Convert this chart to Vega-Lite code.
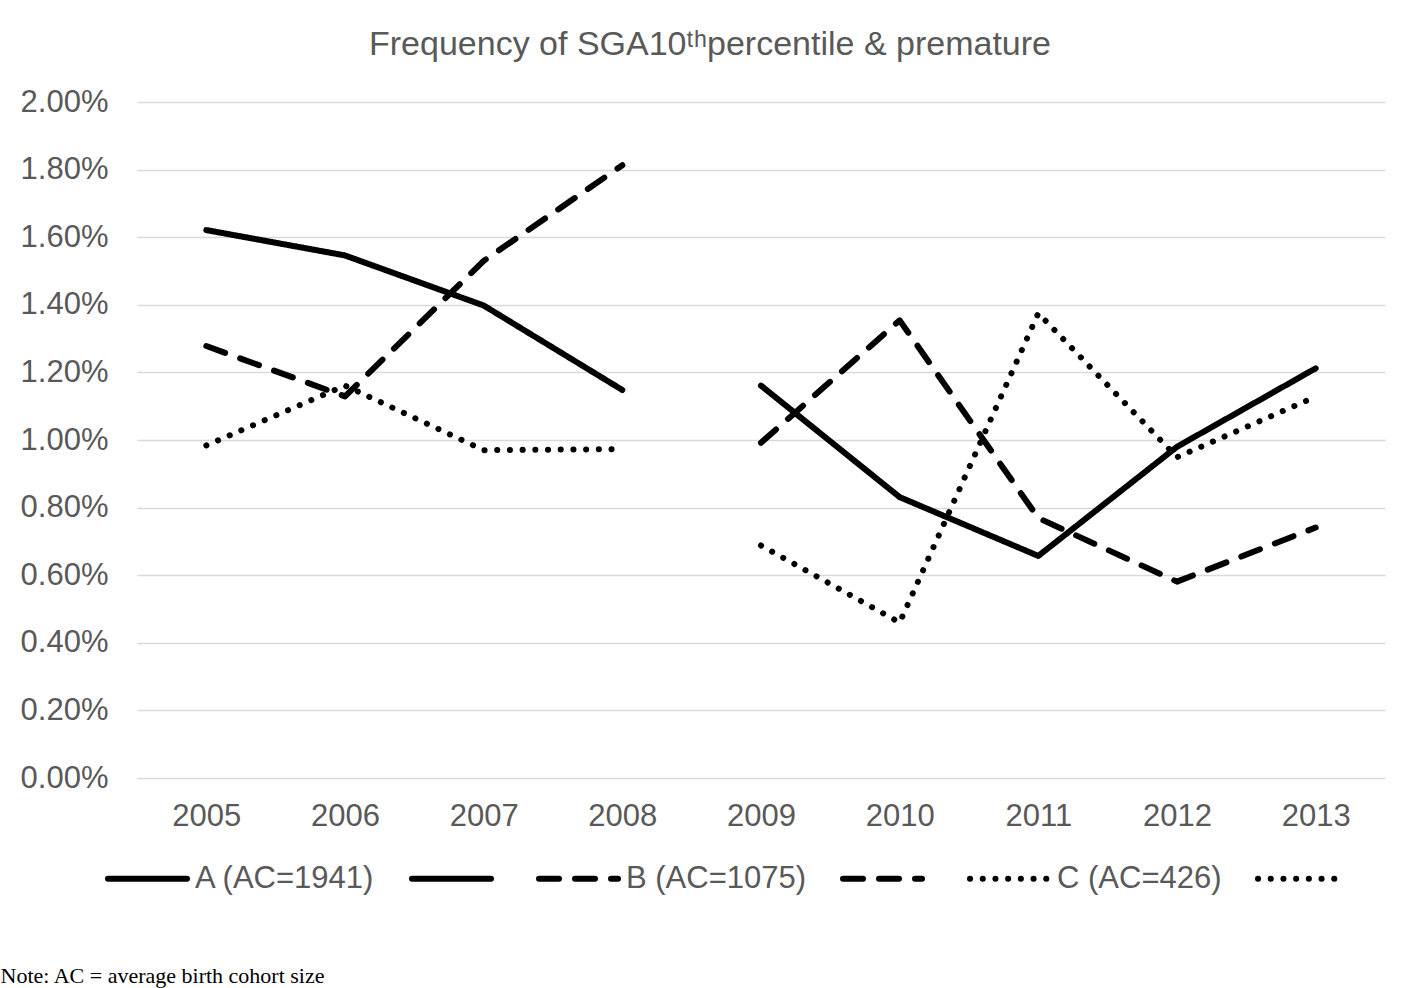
{
  "$schema": "https://vega.github.io/schema/vega-lite/v6.json",
  "width": 1248,
  "height": 676,
  "autosize": {"type": "none"},
  "padding": {"left": 137, "top": 102, "right": 35, "bottom": 210},
  "background": "white",
  "title": {
    "text": "Frequency of SGA10ᵗʰpercentile & premature",
    "font": "Liberation Sans",
    "fontSize": 34,
    "fontWeight": "normal",
    "color": "#595959",
    "anchor": "middle",
    "frame": "group",
    "dx": -51,
    "offset": 24
  },
  "data": {
    "values": [
      {"series": "A1", "year": "2005", "freq": 0.01621},
      {"series": "A1", "year": "2006", "freq": 0.01546},
      {"series": "A1", "year": "2007", "freq": 0.01398},
      {"series": "A1", "year": "2008", "freq": 0.01148},
      {"series": "A2", "year": "2009", "freq": 0.01161},
      {"series": "A2", "year": "2010", "freq": 0.00831},
      {"series": "A2", "year": "2011", "freq": 0.00657},
      {"series": "A2", "year": "2012", "freq": 0.00980},
      {"series": "A2", "year": "2013", "freq": 0.01212},
      {"series": "B1", "year": "2005", "freq": 0.01278},
      {"series": "B1", "year": "2006", "freq": 0.01129},
      {"series": "B1", "year": "2007", "freq": 0.01530},
      {"series": "B1", "year": "2008", "freq": 0.01813},
      {"series": "B2", "year": "2009", "freq": 0.00992},
      {"series": "B2", "year": "2010", "freq": 0.01354},
      {"series": "B2", "year": "2011", "freq": 0.00769},
      {"series": "B2", "year": "2012", "freq": 0.00581},
      {"series": "B2", "year": "2013", "freq": 0.00741},
      {"series": "C1", "year": "2005", "freq": 0.00984},
      {"series": "C1", "year": "2006", "freq": 0.01161},
      {"series": "C1", "year": "2007", "freq": 0.00970},
      {"series": "C1", "year": "2008", "freq": 0.00973},
      {"series": "C2", "year": "2009", "freq": 0.00688},
      {"series": "C2", "year": "2010", "freq": 0.00460},
      {"series": "C2", "year": "2011", "freq": 0.01375},
      {"series": "C2", "year": "2012", "freq": 0.00949},
      {"series": "C2", "year": "2013", "freq": 0.01128}
    ]
  },
  "mark": {
    "type": "line",
    "color": "black",
    "strokeWidth": 6,
    "strokeCap": "round",
    "strokeJoin": "round"
  },
  "encoding": {
    "x": {
      "field": "year",
      "type": "ordinal",
      "scale": {"type": "point", "padding": 0.5},
      "axis": {
        "title": "Note: AC = average birth cohort size",
        "titleFont": "Liberation Serif",
        "titleFontSize": 22,
        "titleFontWeight": "normal",
        "titleColor": "black",
        "titleAnchor": "start",
        "titleAlign": "left",
        "titleBaseline": "alphabetic",
        "titleX": -137,
        "titleY": 204,
        "labelAngle": 0,
        "labelFont": "Liberation Sans",
        "labelFontSize": 31,
        "labelColor": "#595959",
        "labelPadding": 23,
        "domain": false,
        "ticks": false,
        "grid": false
      }
    },
    "y": {
      "field": "freq",
      "type": "quantitative",
      "scale": {"domain": [0, 0.02]},
      "axis": {
        "title": null,
        "values": [0, 0.002, 0.004, 0.006, 0.008, 0.01, 0.012, 0.014, 0.016, 0.018, 0.02],
        "format": ".2%",
        "labelFont": "Liberation Sans",
        "labelFontSize": 31,
        "labelColor": "#595959",
        "labelPadding": 29,
        "domain": false,
        "ticks": false,
        "grid": true,
        "gridColor": "#d9d9d9",
        "gridWidth": 1.5
      }
    },
    "strokeDash": {
      "field": "series",
      "type": "nominal",
      "scale": {
        "domain": ["A1", "A2", "B1", "B2", "C1", "C2"],
        "range": [[1, 0], [1, 0], [20, 16], [20, 16], [0.1, 12.6], [0.1, 12.6]]
      },
      "legend": {
        "title": null,
        "orient": "none",
        "legendX": -32,
        "legendY": 734,
        "direction": "horizontal",
        "columns": 6,
        "symbolType": "stroke",
        "symbolSize": 6241,
        "symbolStrokeWidth": 6,
        "symbolStrokeColor": "black",
        "labelFont": "Liberation Sans",
        "labelFontSize": 31,
        "labelColor": "#595959",
        "labelOffset": 5,
        "labelLimit": 0,
        "columnPadding": 24,
        "labelExpr": "datum.label == 'A1' ? 'A (AC=1941)' : datum.label == 'B1' ? 'B (AC=1075)' : datum.label == 'C1' ? 'C (AC=426)' : ''",
        "encode": {"symbols": {"update": {"strokeCap": {"value": "round"}}}}
      }
    }
  },
  "config": {"view": {"stroke": null}}
}
